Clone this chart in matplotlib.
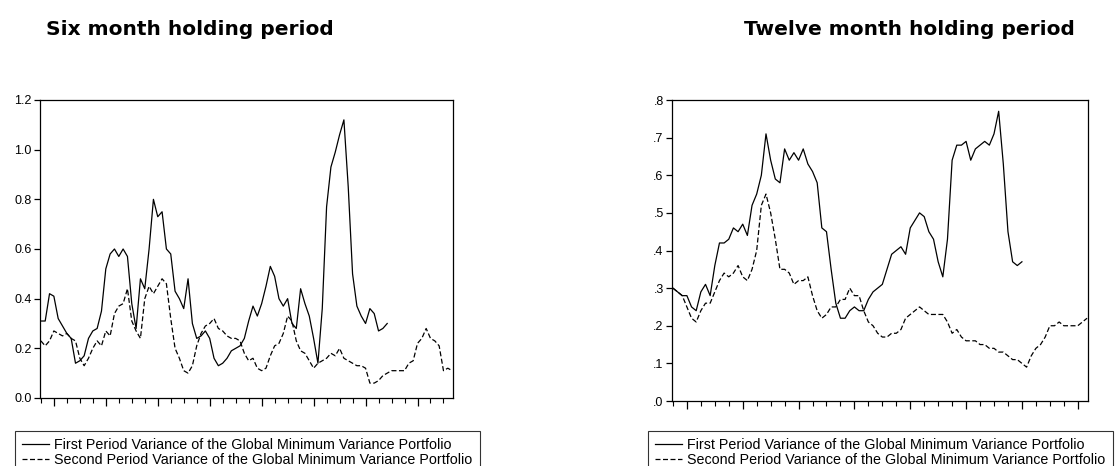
import matplotlib
matplotlib.use("Agg")
import matplotlib.pyplot as plt
import numpy as np
from matplotlib.ticker import FixedLocator, FuncFormatter

# Six month holding period (monthly steps)
first_6m = [
    0.31, 0.31, 0.42, 0.41, 0.32, 0.29, 0.26, 0.24, 0.14, 0.15,
    0.17, 0.24, 0.27, 0.28, 0.35, 0.52, 0.58, 0.60, 0.57, 0.60,
    0.57, 0.38, 0.28, 0.48, 0.44, 0.60, 0.80, 0.73, 0.75, 0.60,
    0.58, 0.43, 0.40, 0.36, 0.48, 0.30, 0.24, 0.25, 0.27, 0.24,
    0.16, 0.13, 0.14, 0.16, 0.19, 0.20, 0.21, 0.24, 0.31, 0.37,
    0.33, 0.38, 0.45, 0.53, 0.49, 0.40, 0.37, 0.40, 0.30, 0.28,
    0.44, 0.38, 0.33, 0.24, 0.14, 0.36, 0.77, 0.93, 0.99, 1.06,
    1.12, 0.85, 0.50, 0.37, 0.33, 0.30, 0.36, 0.34, 0.27, 0.28,
    0.30,
]
second_6m = [
    0.23, 0.21, 0.23, 0.27, 0.26, 0.25, 0.26, 0.24, 0.23, 0.16,
    0.13, 0.16, 0.20, 0.23, 0.21, 0.27, 0.25, 0.34, 0.37, 0.38,
    0.44, 0.31, 0.27, 0.24, 0.40, 0.45, 0.42, 0.45, 0.48, 0.46,
    0.32, 0.20, 0.16, 0.11, 0.10, 0.13, 0.21, 0.26, 0.29, 0.30,
    0.32, 0.28, 0.27, 0.25, 0.24, 0.24, 0.23, 0.18, 0.15, 0.16,
    0.12, 0.11, 0.12, 0.17, 0.21, 0.22, 0.26, 0.33, 0.31, 0.23,
    0.19, 0.18, 0.15, 0.12, 0.14, 0.15, 0.16, 0.18, 0.17, 0.20,
    0.16, 0.15, 0.14, 0.13, 0.13, 0.12, 0.06, 0.06, 0.07, 0.09,
    0.10, 0.11, 0.11, 0.11, 0.11, 0.14, 0.15, 0.22, 0.24, 0.28,
    0.24, 0.23, 0.21, 0.11, 0.12, 0.11,
]

# Twelve month holding period (monthly steps)
first_12m = [
    0.30, 0.29, 0.28, 0.28, 0.25, 0.24, 0.29, 0.31, 0.28, 0.36,
    0.42, 0.42, 0.43, 0.46, 0.45, 0.47, 0.44, 0.52, 0.55, 0.60,
    0.71, 0.64, 0.59, 0.58, 0.67, 0.64, 0.66, 0.64, 0.67, 0.63,
    0.61, 0.58, 0.46, 0.45, 0.35, 0.26, 0.22, 0.22, 0.24, 0.25,
    0.24, 0.24, 0.27, 0.29, 0.30, 0.31, 0.35, 0.39, 0.40, 0.41,
    0.39, 0.46, 0.48, 0.50, 0.49, 0.45, 0.43, 0.37, 0.33, 0.43,
    0.64, 0.68, 0.68, 0.69, 0.64, 0.67, 0.68, 0.69, 0.68, 0.71,
    0.77, 0.63, 0.45, 0.37, 0.36, 0.37,
]
second_12m = [
    0.30, 0.29, 0.28, 0.25, 0.22, 0.21, 0.24, 0.26, 0.26, 0.29,
    0.32, 0.34, 0.33, 0.34, 0.36, 0.33, 0.32, 0.35, 0.40, 0.52,
    0.55, 0.50, 0.43, 0.35, 0.35, 0.34, 0.31, 0.32, 0.32, 0.33,
    0.28, 0.24, 0.22, 0.23, 0.25, 0.25, 0.27, 0.27, 0.30, 0.28,
    0.28, 0.24, 0.21, 0.20, 0.18, 0.17, 0.17, 0.18, 0.18, 0.19,
    0.22, 0.23, 0.24, 0.25, 0.24, 0.23, 0.23, 0.23, 0.23, 0.21,
    0.18, 0.19, 0.17, 0.16, 0.16, 0.16, 0.15, 0.15, 0.14, 0.14,
    0.13, 0.13, 0.12, 0.11, 0.11, 0.10, 0.09, 0.12, 0.14, 0.15,
    0.17, 0.20, 0.20, 0.21, 0.20, 0.20, 0.20, 0.20, 0.21, 0.22,
]

LABELS = [
    "First Period Variance of the Global Minimum Variance Portfolio",
    "Second Period Variance of the Global Minimum Variance Portfolio",
]

plt.rcParams["font.family"] = ["Liberation Sans", "DejaVu Sans"]

W, H = 1117, 466
fig = plt.figure(figsize=(W / 100, H / 100), dpi=100)


def panel(rect, first, second, xmax, yticks, ymax, fmt):
    ax = fig.add_axes(rect)
    ax.plot(np.arange(len(first)), first, color="black", lw=0.9)
    ax.plot(np.arange(len(second)), second, color="black", lw=0.9,
            linestyle=(0, (4, 2)))
    ax.set_xlim(-0.2, xmax)
    ax.set_ylim(0, ymax)
    ax.xaxis.set_major_locator(FixedLocator(np.arange(3, xmax, 12)))
    ax.xaxis.set_minor_locator(FixedLocator(np.arange(0, xmax, 3)))
    ax.set_xticklabels([])
    ax.set_yticks(yticks)
    ax.yaxis.set_major_formatter(FuncFormatter(fmt))
    ax.tick_params(axis="x", which="major", length=6, width=0.9, direction="out")
    ax.tick_params(axis="x", which="minor", length=3.5, width=0.8, direction="out")
    ax.tick_params(axis="y", length=4, width=0.9, labelsize=9, pad=2)
    ax.tick_params(top=False, right=False)
    for s in ax.spines.values():
        s.set_linewidth(0.9)
    return ax


ax1 = panel([40 / W, 68 / H, 413 / W, 298 / H], first_6m, second_6m, 95.2,
            np.arange(0, 1.21, 0.2), 1.2, lambda v, p: f"{v:.1f}")
ax2 = panel([672 / W, 65 / H, 416 / W, 301 / H], first_12m, second_12m, 89.2,
            np.arange(0, 0.81, 0.1), 0.8,
            lambda v, p: f"{v:.1f}".lstrip("0"))

fig.text(46 / W, 1 - 35 / H, "Six month holding period", family="DejaVu Sans",
         fontsize=14.5, fontweight="bold", ha="left", va="baseline")
fig.text(1075 / W, 1 - 35 / H, "Twelve month holding period", family="DejaVu Sans",
         fontsize=14.5, fontweight="bold", ha="right", va="baseline")

for ax, x0 in ((ax1, 15), (ax2, 648)):
    leg = fig.legend(ax.get_lines(), LABELS, loc="upper left",
                     bbox_to_anchor=(x0 / W, 1 - 431 / H), fontsize=10.3,
                     frameon=True, fancybox=False, edgecolor="black",
                     borderpad=0.5, handlelength=1.9, handletextpad=0.36,
                     labelspacing=0.04, borderaxespad=0)
    leg.get_frame().set_linewidth(0.8)

fig.savefig("out.png", dpi=100)
